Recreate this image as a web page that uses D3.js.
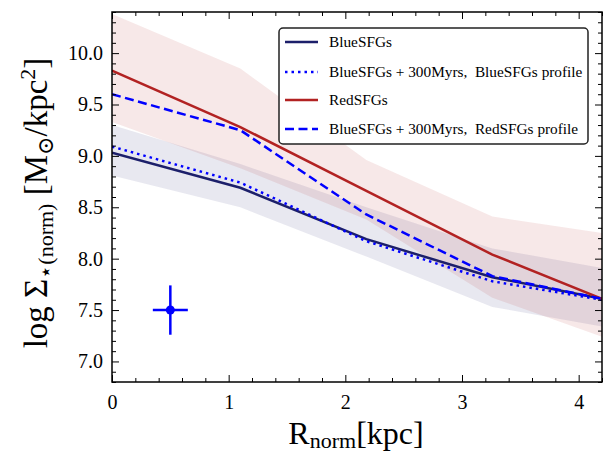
<!DOCTYPE html>
<html>
<head>
<meta charset="utf-8">
<script src="https://cdn.jsdelivr.net/npm/d3@7"></script>
<style>
  body { margin: 0; background: #fff; }
  svg text { font-family: "Liberation Serif", "DejaVu Serif", serif; }
</style>
</head>
<body>
<svg width="603" height="455"></svg>
<script>
// radial knots (kpc)
var radius = [0, 1.1, 2.18, 3.26, 4.2];

// log surface density profiles
var blueSFGs = [9.03, 8.69, 8.19, 7.82, 7.61];
var blueLow = [8.81, 8.50, 8.02, 7.53, 7.34];
var blueHigh = [9.30, 8.92, 8.50, 8.10, 7.91];
var redSFGs = [9.83, 9.28, 8.66, 8.04, 7.61];
var redLow = [9.33, 8.88, 8.38, 7.62, 7.24];
var redHigh = [10.38, 9.85, 8.96, 8.41, 8.25];
var bluePlusBlueProfile = [9.09, 8.74, 8.17, 7.78, 7.60];
var bluePlusRedProfile = [9.60, 9.25, 8.43, 7.83, 7.61];

// typical error bar
var errPoint = [0.5, 7.5];
var errSize = [0.15, 0.24];

var xTicks = [0, 1, 2, 3, 4];
var yTicks = [7.0, 7.5, 8.0, 8.5, 9.0, 9.5, 10.0];

var legendLabels = [
  "BlueSFGs",
  "BlueSFGs + 300Myrs,  BlueSFGs profile",
  "RedSFGs",
  "BlueSFGs + 300Myrs,  RedSFGs profile"
];

(function() {
  var svg = d3.select("svg");
  var left = 112, right = 602, top = 12, bottom = 382;

  var x = d3.scaleLinear().domain([0, 4.2]).range([left, right]);
  var y = d3.scaleLinear().domain([6.8, 10.4]).range([bottom, top]);

  var navy = "#1c1f6a", red = "#b22222", blue = "#0000ff";

  svg.append("clipPath").attr("id", "clip")
    .append("rect").attr("x", left).attr("y", top)
    .attr("width", right - left).attr("height", bottom - top);

  var plot = svg.append("g").attr("clip-path", "url(#clip)");

  function band(lo, hi) {
    return d3.area()
      .x(function(d, i) { return x(radius[i]); })
      .y0(function(d, i) { return y(lo[i]); })
      .y1(function(d, i) { return y(hi[i]); })(radius);
  }
  plot.append("path").attr("d", band(blueLow, blueHigh))
    .attr("fill", "#191970").attr("fill-opacity", 0.1);
  plot.append("path").attr("d", band(redLow, redHigh))
    .attr("fill", red).attr("fill-opacity", 0.1);

  var line = d3.line()
    .x(function(d, i) { return x(radius[i]); })
    .y(function(d) { return y(d); });

  var series = [
    {v: blueSFGs, c: navy, dash: null},
    {v: bluePlusBlueProfile, c: blue, dash: "2.5,4"},
    {v: redSFGs, c: red, dash: null},
    {v: bluePlusRedProfile, c: blue, dash: "9,4.5"}
  ];
  series.forEach(function(s) {
    plot.append("path").attr("d", line(s.v))
      .attr("fill", "none").attr("stroke", s.c)
      .attr("stroke-width", 2.5)
      .attr("stroke-dasharray", s.dash);
  });

  // error bar
  var eb = plot.append("g").attr("stroke", blue).attr("stroke-width", 2.5);
  eb.append("line")
    .attr("x1", x(errPoint[0] - errSize[0])).attr("x2", x(errPoint[0] + errSize[0]))
    .attr("y1", y(errPoint[1])).attr("y2", y(errPoint[1]));
  eb.append("line")
    .attr("x1", x(errPoint[0])).attr("x2", x(errPoint[0]))
    .attr("y1", y(errPoint[1] - errSize[1])).attr("y2", y(errPoint[1] + errSize[1]));
  plot.append("circle").attr("cx", x(errPoint[0])).attr("cy", y(errPoint[1]))
    .attr("r", 4.5).attr("fill", blue);

  // axes, ticks pointing inward on all sides
  var xMinor = d3.range(0, 4.21, 0.2).filter(function(v) { return Math.abs(v - Math.round(v)) > 1e-6; });
  var yMinor = d3.range(6.8, 10.41, 0.1).filter(function(v) { return Math.abs(v * 2 - Math.round(v * 2)) > 1e-6; });

  function styleAxis(g) {
    g.attr("font-family", null).attr("font-size", null);
    g.select(".domain").remove();
    g.selectAll("line").attr("stroke", "#000").attr("stroke-width", 1);
    g.selectAll("text").attr("font-size", 20).attr("fill", "#000")
      .style("font-family", "'Liberation Serif', serif");
  }

  svg.append("g").attr("transform", "translate(0," + bottom + ")")
    .call(d3.axisBottom(x).tickValues(xTicks).tickSize(-7).tickPadding(13).tickFormat(d3.format("d")))
    .call(styleAxis);
  svg.append("g").attr("transform", "translate(0," + bottom + ")")
    .call(d3.axisBottom(x).tickValues(xMinor).tickSize(-4).tickFormat(""))
    .call(styleAxis);
  svg.append("g").attr("transform", "translate(0," + top + ")")
    .call(d3.axisTop(x).tickValues(xTicks).tickSize(-7).tickFormat(""))
    .call(styleAxis);
  svg.append("g").attr("transform", "translate(0," + top + ")")
    .call(d3.axisTop(x).tickValues(xMinor).tickSize(-4).tickFormat(""))
    .call(styleAxis);

  svg.append("g").attr("transform", "translate(" + left + ",0)")
    .call(d3.axisLeft(y).tickValues(yTicks).tickSize(-7).tickPadding(9).tickFormat(d3.format(".1f")))
    .call(styleAxis);
  svg.append("g").attr("transform", "translate(" + left + ",0)")
    .call(d3.axisLeft(y).tickValues(yMinor).tickSize(-4).tickFormat(""))
    .call(styleAxis);
  svg.append("g").attr("transform", "translate(" + right + ",0)")
    .call(d3.axisRight(y).tickValues(yTicks).tickSize(-7).tickFormat(""))
    .call(styleAxis);
  svg.append("g").attr("transform", "translate(" + right + ",0)")
    .call(d3.axisRight(y).tickValues(yMinor).tickSize(-4).tickFormat(""))
    .call(styleAxis);

  svg.append("rect").attr("x", left).attr("y", top)
    .attr("width", right - left).attr("height", bottom - top)
    .attr("fill", "none").attr("stroke", "#000").attr("stroke-width", 1.5);

  // legend
  var lg = svg.append("g").attr("transform", "translate(279,28)");
  lg.append("rect").attr("width", 309).attr("height", 116).attr("rx", 4)
    .attr("fill", "#fff").attr("stroke", "#222").attr("stroke-width", 1.5);
  var rowY = [14, 44, 72, 101];
  legendLabels.forEach(function(t, i) {
    lg.append("line").attr("x1", 6).attr("x2", 39)
      .attr("y1", rowY[i]).attr("y2", rowY[i])
      .attr("stroke", series[i].c).attr("stroke-width", 2.5)
      .attr("stroke-dasharray", series[i].dash);
    lg.append("text").attr("x", 50).attr("y", rowY[i]).attr("dy", "0.35em")
      .attr("font-size", 15.3).attr("xml:space", "preserve").text(t);
  });

  // axis labels
  var xl = svg.append("text").attr("x", 356).attr("y", 444)
    .attr("text-anchor", "middle").attr("font-size", 32);
  xl.append("tspan").text("R");
  xl.append("tspan").attr("font-size", 22).attr("dy", 4).text("norm");
  xl.append("tspan").attr("dy", -4).text("[kpc]");

  var yl = svg.append("text")
    .attr("transform", "translate(47,203) rotate(-90)")
    .attr("text-anchor", "middle").attr("font-size", 33);
  yl.append("tspan").text("log \u03A3");
  yl.append("tspan").attr("font-size", 22).attr("dy", 6).text("\u22C6(norm)");
  yl.append("tspan").attr("dy", -6).text(" [M");
  yl.append("tspan").attr("font-size", 22).attr("dy", 6).text("\u2299");
  yl.append("tspan").attr("dy", -6).text("/kpc");
  yl.append("tspan").attr("font-size", 22).attr("dy", -12).text("2");
  yl.append("tspan").attr("dy", 12).text("]");
})();
</script>
</body>
</html>
